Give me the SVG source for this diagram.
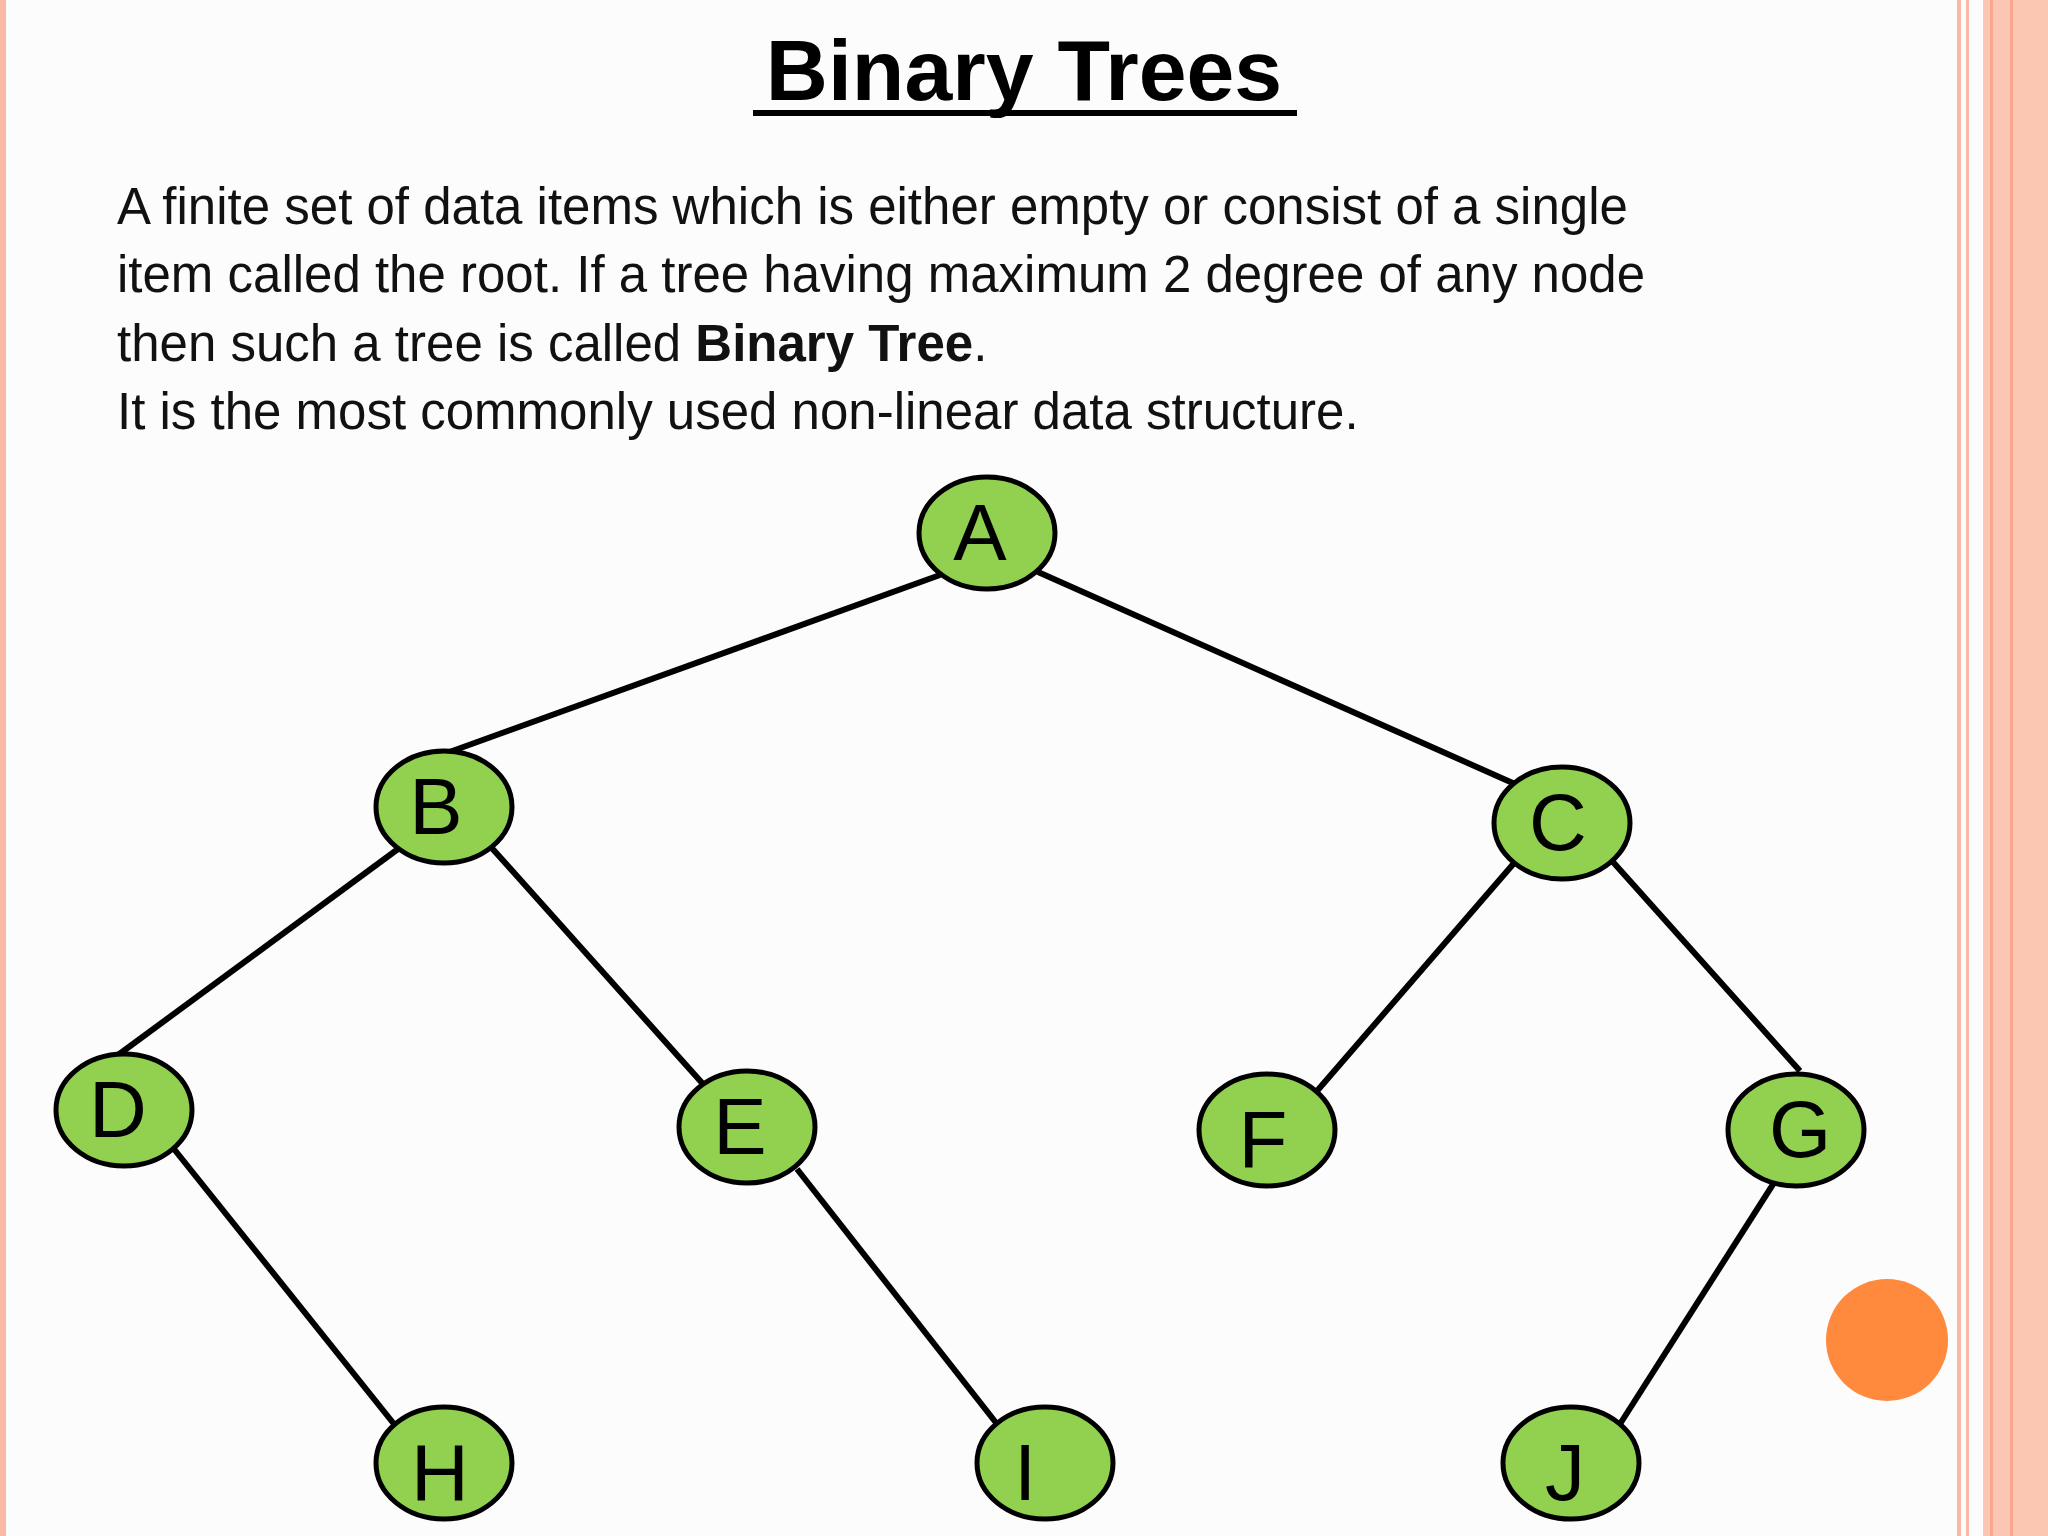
<svg xmlns="http://www.w3.org/2000/svg" width="2048" height="1536" viewBox="0 0 2048 1536">
<style>
.n ellipse{fill:#92d050;stroke:#000;stroke-width:5}
.n text{font-family:"Liberation Sans",Arial,sans-serif;font-size:80px;text-anchor:middle;fill:#000}
.e line{stroke:#000;stroke-width:6}
.b{font-family:"Liberation Sans",Arial,sans-serif;font-size:51px;fill:#111}
</style>
<rect width="2048" height="1536" fill="#fdfcfc"/>
<rect x="0" y="0" width="6" height="1536" fill="#f9b9a4"/>
<rect x="1957" y="0" width="4" height="1536" fill="#f9b9a4"/>
<rect x="1966" y="0" width="3" height="1536" fill="#f9b9a4"/>
<rect x="1983" y="0" width="65" height="1536" fill="#fcc7b2"/>
<rect x="1990" y="0" width="3" height="1536" fill="#f7a98f"/>
<rect x="2010" y="0" width="3" height="1536" fill="#f7a98f"/>
<text x="1024" y="100" text-anchor="middle" font-family="Liberation Sans,Arial,sans-serif" font-weight="bold" font-size="86">Binary Trees</text>
<rect x="753" y="110" width="544" height="6" fill="#000"/>
<text class="b" x="117" y="224">A finite set of data items which is either empty or consist of a single</text>
<text class="b" x="117" y="292">item called the root. If a tree having maximum 2 degree of any node</text>
<text class="b" x="117" y="361">then such a tree is called <tspan font-weight="bold">Binary Tree</tspan>.</text>
<text class="b" x="117" y="429">It is the most commonly used non-linear data structure.</text>
<g class="e" id="edges">
<line x1="940" y1="575" x2="444" y2="754"/>
<line x1="1038" y1="572" x2="1515" y2="784"/>
<line x1="398" y1="849" x2="118" y2="1055"/>
<line x1="490" y1="846" x2="703" y2="1084"/>
<line x1="1515" y1="862" x2="1317" y2="1091"/>
<line x1="1613" y1="862" x2="1800" y2="1071"/>
<line x1="174" y1="1149" x2="394" y2="1424"/>
<line x1="797" y1="1169" x2="997" y2="1424"/>
<line x1="1793" y1="1153" x2="1620" y2="1424"/>
</g>
<g class="n" id="A"><ellipse cx="987" cy="533" rx="68" ry="56"/><text x="980" y="560">A</text></g>
<g class="n" id="B"><ellipse cx="444" cy="807" rx="68" ry="56"/><text x="436" y="834">B</text></g>
<g class="n" id="C"><ellipse cx="1562" cy="823" rx="68" ry="56"/><text x="1558" y="850">C</text></g>
<g class="n" id="D"><ellipse cx="124" cy="1110" rx="68" ry="56"/><text x="118" y="1137">D</text></g>
<g class="n" id="E"><ellipse cx="747" cy="1127" rx="68" ry="56"/><text x="740" y="1154">E</text></g>
<g class="n" id="F"><ellipse cx="1267" cy="1130" rx="68" ry="56"/><text x="1263" y="1167">F</text></g>
<g class="n" id="G"><ellipse cx="1796" cy="1130" rx="68" ry="56"/><text x="1800" y="1157">G</text></g>
<g class="n" id="H"><ellipse cx="444" cy="1463" rx="68" ry="56"/><text x="440" y="1500">H</text></g>
<g class="n" id="I"><ellipse cx="1045" cy="1463" rx="68" ry="56"/><text x="1025" y="1500">I</text></g>
<g class="n" id="J"><ellipse cx="1571" cy="1463" rx="68" ry="56"/><text x="1565" y="1500">J</text></g>
<circle cx="1887" cy="1340" r="61" fill="#ff8a3d"/>
</svg>
